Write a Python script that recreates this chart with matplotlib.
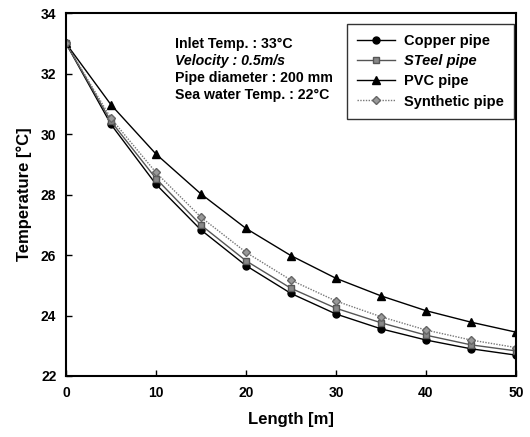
import matplotlib
matplotlib.use("Agg")
import matplotlib.pyplot as plt

plt.rcParams["font.family"] = ["Liberation Sans", "DejaVu Sans"]
plt.rcParams["font.weight"] = "bold"

length = [0, 5, 10, 15, 20, 25, 30, 35, 40, 45, 50]
copper = [33.0, 30.32, 28.34, 26.83, 25.65, 24.73, 24.05, 23.56, 23.19, 22.90, 22.69]
steel = [33.0, 30.42, 28.53, 26.99, 25.81, 24.90, 24.24, 23.76, 23.35, 23.03, 22.83]
pvc = [33.0, 30.97, 29.34, 28.02, 26.88, 25.98, 25.23, 24.65, 24.16, 23.78, 23.45]
synthetic = [33.0, 30.52, 28.73, 27.25, 26.09, 25.17, 24.48, 23.96, 23.52, 23.19, 22.94]

fig = plt.figure(figsize=(5.3, 4.37), dpi=100)
ax = fig.add_axes([0.1245, 0.1396, 0.849, 0.8304])

ax.plot(length, copper, color="black", lw=1.0, marker="o", ms=5, label="Copper pipe")
ax.plot(length, steel, color="#555555", lw=1.0, marker="s", ms=4.5,
        mfc="#888888", mec="#555555", label="STeel pipe")
ax.plot(length, pvc, color="black", lw=1.0, marker="^", ms=5.5, label="PVC pipe")
ax.plot(length, synthetic, color="#777777", lw=1.0, ls=(0, (1, 1)), marker="D", ms=4.5,
        mfc="#999999", mec="#666666", label="Synthetic pipe")

ax.set_xlim(0, 50)
ax.set_ylim(22, 34)
ax.set_xticks(range(0, 51, 10))
ax.set_yticks(range(22, 35, 2))
ax.tick_params(direction="in", length=4, width=1, labelsize=10, pad=7)
for lab in ax.get_xticklabels() + ax.get_yticklabels():
    lab.set_fontweight("bold")
for sp in ax.spines.values():
    sp.set_linewidth(1.5)

ax.set_xlabel("Length [m]", fontsize=12, fontweight="bold", labelpad=9)
ax.set_ylabel("Temperature [\u00b0C]", fontsize=12, fontweight="bold", labelpad=6)

info = [
    ("Inlet Temp. : 33\u00b0C", "normal"),
    ("Velocity : 0.5m/s", "italic"),
    ("Pipe diameter : 200 mm", "normal"),
    ("Sea water Temp. : 22\u00b0C", "normal"),
]
for i, (txt, st) in enumerate(info):
    ax.text(0.243, 0.935 - i * 0.047, txt, transform=ax.transAxes,
            fontsize=10.2, fontweight="bold", style=st, va="top")

leg = ax.legend(loc="upper right", bbox_to_anchor=(0.996, 0.970), borderaxespad=0,
                fontsize=10.5, frameon=True, fancybox=False, edgecolor="black",
                handlelength=2.6, labelspacing=0.42, borderpad=0.7, handletextpad=0.6)
leg.get_frame().set_linewidth(1.0)
for t in leg.get_texts():
    t.set_fontweight("bold")
leg.get_texts()[1].set_style("italic")

fig.savefig("out.png", dpi=100)
